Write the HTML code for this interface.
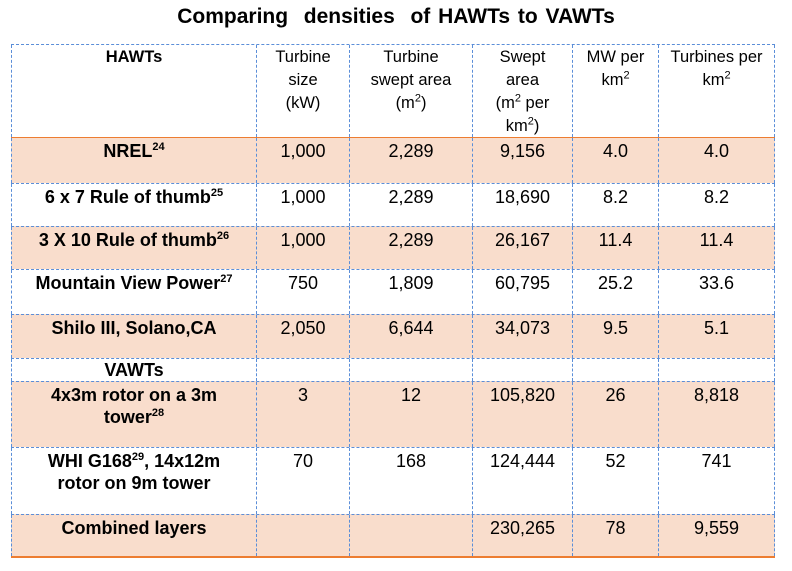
<!DOCTYPE html>
<html><head><meta charset="utf-8"><style>
body{margin:0;width:792px;height:571px;background:#fff;position:relative;overflow:hidden;font-family:"Liberation Sans",Arial,sans-serif;color:#000}
.t{position:absolute;left:0;top:5px;width:792px;text-align:center;font-weight:bold;font-size:21px;word-spacing:2px}
.r{position:absolute;left:11px;width:764px;box-sizing:border-box}
.c{position:absolute;top:0;height:100%;box-sizing:border-box;text-align:center;font-size:18px;line-height:22px;padding-top:2px;border-left:1px dashed #5b8ed8}
.c.last{border-right:1px dashed #5b8ed8}
.c.f{font-weight:bold}
.h .c{font-size:16.5px;line-height:23px;padding-top:1px}
.sh{background:#f9ddcc}
sup{font-size:11px;line-height:0}
</style></head><body>
<div class="t">Comparing &nbsp;densities &nbsp;of HAWTs to VAWTs</div>
<div id="tbl"></div>
<script>
const cols=[0,245,338,461,561,647,764];
const rows=[
 {y:44,h:93,head:true,cells:['HAWTs','Turbine<br>size<br>(kW)','Turbine<br>swept area<br>(m<sup>2</sup>)','Swept<br>area<br>(m<sup>2</sup> per<br>km<sup>2</sup>)','MW per<br>km<sup>2</sup>','Turbines per<br>km<sup>2</sup>']},
 {y:137,h:46,sh:1,cells:['NREL<sup>24</sup>','1,000','2,289','9,156','4.0','4.0']},
 {y:183,h:43,cells:['6 x 7 Rule of thumb<sup>25</sup>','1,000','2,289','18,690','8.2','8.2']},
 {y:226,h:43,sh:1,cells:['3 X 10 Rule of thumb<sup>26</sup>','1,000','2,289','26,167','11.4','11.4']},
 {y:269,h:45,cells:['Mountain View Power<sup>27</sup>','750','1,809','60,795','25.2','33.6']},
 {y:314,h:44,sh:1,cells:['Shilo III, Solano,CA','2,050','6,644','34,073','9.5','5.1']},
 {y:358,h:23,cells:['VAWTs','','','','','']},
 {y:381,h:66,sh:1,cells:['4x3m rotor on a 3m<br>tower<sup>28</sup>','3','12','105,820','26','8,818']},
 {y:447,h:67,cells:['WHI G168<sup>29</sup>, 14x12m<br>rotor on 9m tower','70','168','124,444','52','741']},
 {y:514,h:44,sh:1,cells:['Combined layers','','','230,265','78','9,559']}
];
const names=['label','turbine-size','turbine-swept-area','swept-area-per-km2','mw-per-km2','turbines-per-km2'];
const tbl=document.getElementById('tbl');
rows.forEach((r,i)=>{
 const d=document.createElement('div');
 d.className='r'+(r.head?' h':'')+(r.sh?' sh':'');
 
 
 d.style.top=r.y+'px';d.style.height=r.h+'px';
 d.style.borderTop=(i==1)?'1px solid #ed7d31':'1px dashed #5b8ed8';
 if(i==rows.length-1)d.style.borderBottom='2px solid #ed7d31';
 r.cells.forEach((t,j)=>{
  const c=document.createElement('div');
  c.className='c'+(j==0&&!r.head?' f':'')+(j==5?' last':'');
  
  
  c.style.left=cols[j]+'px';c.style.width=(cols[j+1]-cols[j])+'px';
  if(i==6)c.style.paddingTop='0px';
  c.innerHTML=t;
  if(r.head&&j==0)c.style.fontWeight='bold';
  d.appendChild(c);
 });
 tbl.appendChild(d);
});
</script>
</body></html>
